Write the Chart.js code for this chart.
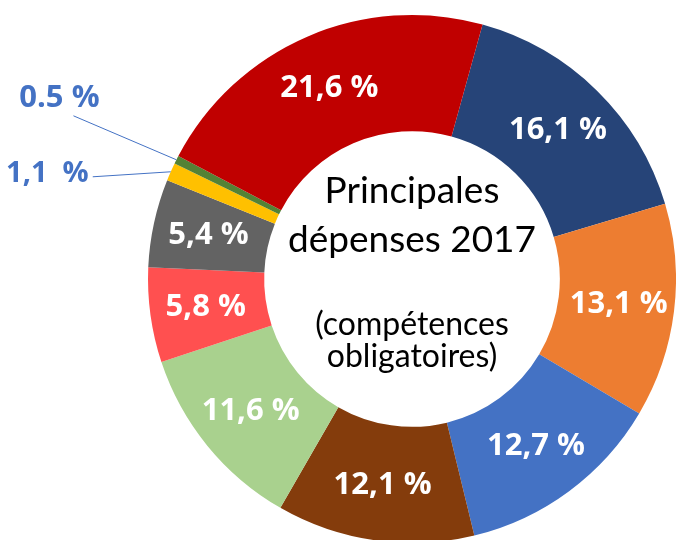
<!DOCTYPE html>
<html>
<head>
<meta charset="utf-8">
<script src="https://cdn.jsdelivr.net/npm/chart.js@4"></script>
<style>
  html, body { margin: 0; padding: 0; background: #fff; overflow: hidden; }
  #wrap { position: relative; width: 676px; height: 560px; }
</style>
</head>
<body>
<div id="wrap"><canvas id="graficoDepenses"></canvas></div>
<script>
// Données du graphique
var categories = ['Poste 1', 'Poste 2', 'Poste 3', 'Poste 4', 'Poste 5', 'Poste 6', 'Poste 7', 'Poste 8', 'Poste 9', 'Poste 10'];
var valeurs = [16.1, 13.1, 12.7, 12.1, 11.6, 5.8, 5.4, 1.1, 0.5, 21.6];
var etiquettes = ['16,1 %', '13,1 %', '12,7 %', '12,1 %', '11,6 %', '5,8 %', '5,4 %', '1,1  %', '0.5 %', '21,6 %'];
var couleurs = ['#264478', '#ED7D31', '#4472C4', '#843C0C', '#A9D18E', '#FF5050', '#636363', '#FFC000', '#548235', '#C00000'];

// Étiquettes à l'extérieur (petites parts) : décalage de la ligne et du texte
var renvois = {
  7: { dx: -78, dy: 5, align: 'right', tx: -4, ty: -3, taille: 29 },
  8: { dx: -103, dy: -44, align: 'center', tx: -14, ty: -18, taille: 31 }
};

const etiquettesPlugin = {
  id: 'etiquettes',
  afterDatasetsDraw(chart) {
    const ctx = chart.ctx;
    const meta = chart.getDatasetMeta(0);
    meta.data.forEach((arc, i) => {
      const p = arc.getProps(['x', 'y', 'startAngle', 'endAngle', 'innerRadius', 'outerRadius'], true);
      const mid = (p.startAngle + p.endAngle) / 2;
      ctx.save();
      if (renvois[i]) {
        const r = renvois[i];
        const x0 = p.x + Math.cos(mid) * p.outerRadius;
        const y0 = p.y + Math.sin(mid) * p.outerRadius;
        const x1 = x0 + r.dx, y1 = y0 + r.dy;
        ctx.strokeStyle = '#4472C4';
        ctx.lineWidth = 1;
        ctx.beginPath();
        ctx.moveTo(x0, y0);
        ctx.lineTo(x1, y1);
        ctx.stroke();
        ctx.fillStyle = '#4472C4';
        ctx.font = 'bold ' + r.taille + 'px "Open Sans"';
        ctx.textAlign = r.align;
        ctx.textBaseline = 'middle';
        ctx.fillText(etiquettes[i], x1 + r.tx, y1 + r.ty);
      } else {
        const rr = p.innerRadius + (p.outerRadius - p.innerRadius) * 0.52;
        ctx.fillStyle = '#fff';
        ctx.font = 'bold 31px "Open Sans"';
        ctx.textAlign = 'center';
        ctx.textBaseline = 'middle';
        ctx.fillText(etiquettes[i], p.x + Math.cos(mid) * rr, p.y + Math.sin(mid) * rr);
      }
      ctx.restore();
    });
    // Texte central
    const cx = meta.data[0].x, cy = meta.data[0].y;
    ctx.save();
    ctx.fillStyle = '#000';
    ctx.textAlign = 'center';
    ctx.textBaseline = 'alphabetic';
    ctx.font = '37px Lato';
    ctx.fillText('Principales', cx, cy - 76);
    ctx.fillText('dépenses 2017', cx, cy - 27);
    ctx.font = '32px Lato';
    ctx.fillText('(compétences', cx, cy + 56);
    ctx.fillText('obligatoires)', cx, cy + 88);
    ctx.restore();
  }
};

new Chart(document.getElementById('graficoDepenses'), {
  type: 'doughnut',
  data: {
    labels: categories,
    datasets: [{
      data: valeurs,
      backgroundColor: couleurs,
      borderWidth: 0,
      hoverOffset: 0
    }]
  },
  options: {
    responsive: true,
    maintainAspectRatio: false,
    animation: false,
    cutout: '56%',
    rotation: 15.5,
    layout: { padding: { left: 148, top: 15, right: 0, bottom: 17 } },
    plugins: {
      legend: { display: false },
      tooltip: { enabled: false },
      title: { display: false }
    }
  },
  plugins: [etiquettesPlugin]
});
</script>
</body>
</html>
